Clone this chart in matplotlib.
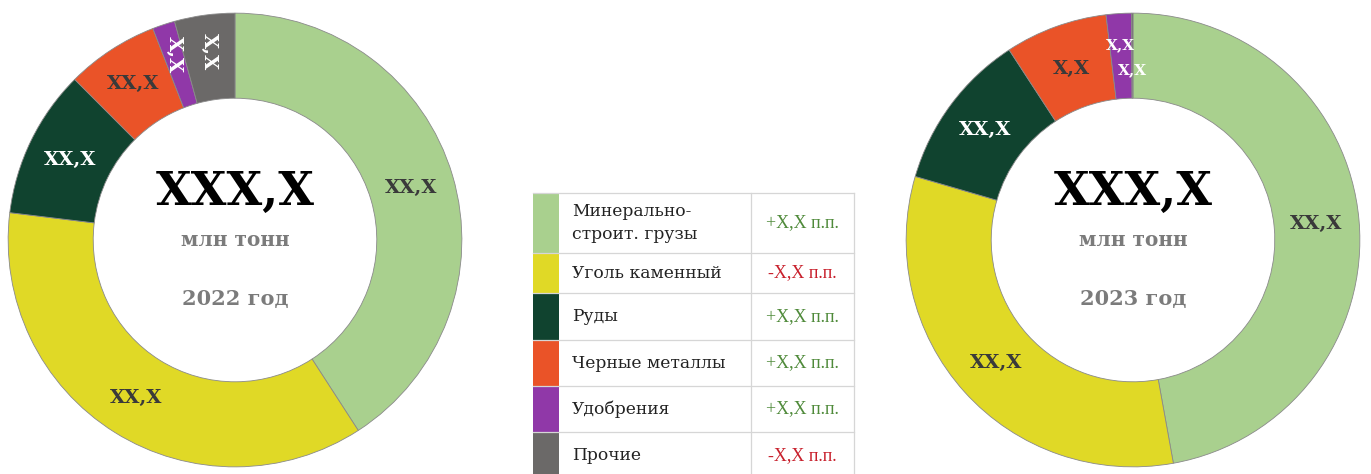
import matplotlib
matplotlib.use("Agg")
import matplotlib.pyplot as plt
from matplotlib.patches import Rectangle
import numpy as np

# data
categories = ["Минерально-\nстроит. грузы", "Уголь каменный", "Руды",
              "Черные металлы", "Удобрения", "Прочие"]
colors = ["#a9d08e", "#e0d926", "#10432f", "#ea5328", "#9038a8", "#6b6968"]
label_colors = ["#3a3a3a", "#3a3a3a", "#ffffff", "#3a3a3a", "#ffffff", "#ffffff"]
share_2022 = [40.9, 36.1, 10.6, 6.6, 1.6, 4.3]
share_2023 = [47.2, 32.4, 11.3, 7.3, 1.8, 0.1]
labels_2022 = ["XX,X", "XX,X", "XX,X", "XX,X", "X,X", "X,X"]
labels_2023 = ["XX,X", "XX,X", "XX,X", "X,X", "X,X", "X,X"]
totals = ["XXX,X", "XXX,X"]
years = ["2022 год", "2023 год"]
changes = ["+X,X п.п.", "-X,X п.п.", "+X,X п.п.", "+X,X п.п.", "+X,X п.п.", "-X,X п.п."]

# label layout per chart: rotation, radial position, font size
rot_2022 = [0, 0, 0, 0, 270, 270]
rad_2022 = [0.81, 0.82, 0.81, 0.82, 0.86, 0.84]
size_2022 = [14, 14, 14, 14, 14, 14]
rot_2023 = [0, 0, 0, 0, 0, 0]
rad_2023 = [0.81, 0.81, 0.81, 0.80, 0.86, 0.75]
size_2023 = [14, 14, 14, 14, 11, 11]

W, H = 1371, 474
fig = plt.figure(figsize=(W / 100, H / 100), dpi=100)
SERIF = "DejaVu Serif"


def donut(cx, cy, r, values, labels, rots, rads, sizes, total, year):
    ax = fig.add_axes([(cx - r) / W, (H - cy - r) / H, 2 * r / W, 2 * r / H])
    wedges, _ = ax.pie(values, colors=colors, startangle=90, counterclock=False,
                       radius=1.0, wedgeprops=dict(width=0.375, edgecolor="#8a8a8a",
                                                   linewidth=0.6))
    for w, lab, tc, rot, rr, fs in zip(wedges, labels, label_colors, rots, rads, sizes):
        mid = np.deg2rad((w.theta1 + w.theta2) / 2)
        ax.text(rr * np.cos(mid), rr * np.sin(mid), lab, ha="center", va="center",
                color=tc, fontsize=fs, fontweight="bold", family=SERIF, rotation=rot)
    ax.text(0, 0.21, total, ha="center", va="center", fontsize=33, fontweight="bold",
            family=SERIF, color="black")
    ax.text(0, 0.0, "млн тонн", ha="center", va="center", fontsize=14.5,
            fontweight="bold", family=SERIF, color="#7b7b7b")
    ax.text(0, -0.26, year, ha="center", va="center", fontsize=15,
            fontweight="bold", family=SERIF, color="#7b7b7b")
    ax.set_xlim(-1.005, 1.005)
    ax.set_ylim(-1.005, 1.005)
    ax.set_aspect("equal")
    ax.axis("off")


donut(235, 240, 228, share_2022, labels_2022, rot_2022, rad_2022, size_2022,
      totals[0], years[0])
donut(1133, 240, 228, share_2023, labels_2023, rot_2023, rad_2023, size_2023,
      totals[1], years[1])

# legend table
lx = fig.add_axes([0, 0, 1, 1], zorder=-1)
lx.set_xlim(0, W)
lx.set_ylim(H, 0)
lx.axis("off")
rows = [193, 253, 293, 340, 386, 432, 480]
x0, x1, x2, x3 = 533, 559, 751, 854
grid = "#d6d6d6"
for i, (cat, col, ch) in enumerate(zip(categories, colors, changes)):
    top, bot = rows[i], rows[i + 1]
    lx.add_patch(Rectangle((x0, top), x1 - x0, bot - top, facecolor=col, edgecolor="none"))
    ym = (top + bot) / 2
    lx.text(x1 + 13, ym, cat, ha="left", va="center", fontsize=12.3, family=SERIF,
            color="#222222", linespacing=1.45)
    lx.text((x2 + x3) / 2, ym, ch, ha="center", va="center", fontsize=13,
            family="Liberation Serif",
            color="#4f8a3a" if ch.startswith("+") else "#c8202c")
for y in rows[:-1]:
    lx.plot([x0, x3], [y, y], color=grid, lw=0.9)
for x in (x2, x3):
    lx.plot([x, x], [rows[0], H], color=grid, lw=0.9)

fig.savefig("out.png", dpi=100)
